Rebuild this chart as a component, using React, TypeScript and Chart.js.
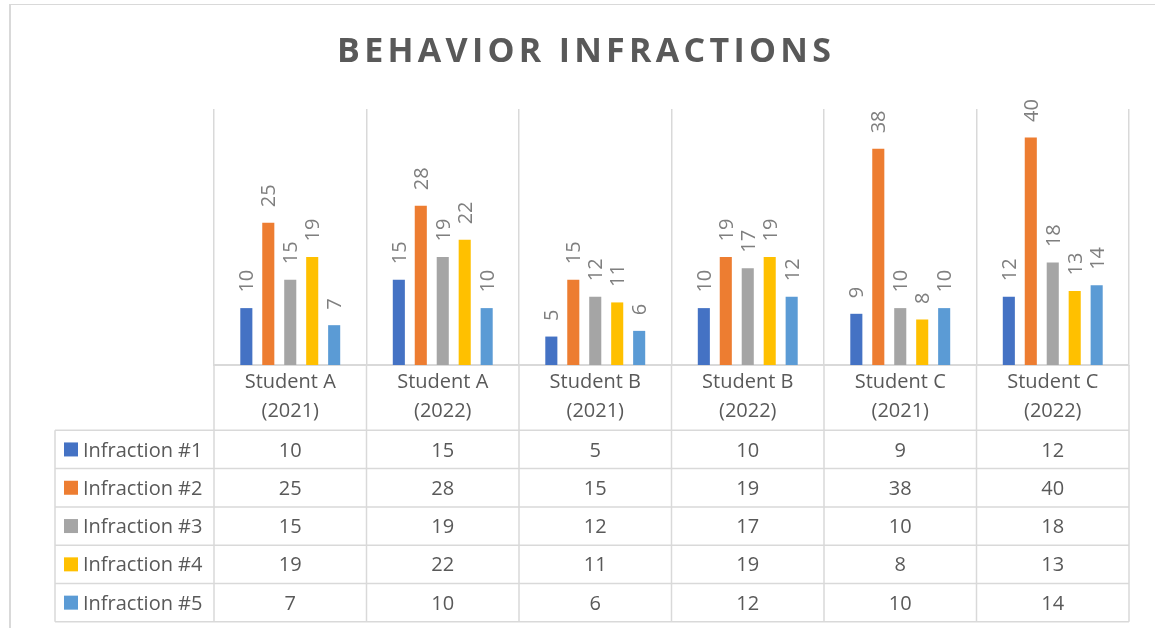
import React, { useEffect, useRef } from 'react';
import { Chart, registerables } from 'chart.js';

Chart.register(...registerables);

const titleText = 'BEHAVIOR INFRACTIONS';
const categories = [
  ['Student A', '(2021)'],
  ['Student A', '(2022)'],
  ['Student B', '(2021)'],
  ['Student B', '(2022)'],
  ['Student C', '(2021)'],
  ['Student C', '(2022)'],
];
const seriesNames = ['Infraction #1', 'Infraction #2', 'Infraction #3', 'Infraction #4', 'Infraction #5'];
const infraction1 = [10, 15, 5, 10, 9, 12];
const infraction2 = [25, 28, 15, 19, 38, 40];
const infraction3 = [15, 19, 12, 17, 10, 18];
const infraction4 = [19, 22, 11, 19, 8, 13];
const infraction5 = [7, 10, 6, 12, 10, 14];
const seriesValues = [infraction1, infraction2, infraction3, infraction4, infraction5];
const seriesColors = ['#4472C4', '#ED7D31', '#A5A5A5', '#FFC000', '#5B9BD5'];
const yMax = 45;

const W = 1155;
const H = 628;
const FONT = '"Open Sans", sans-serif';
const GRID = '#d9d9d9';
const TEXT = '#595959';
const LABEL = '#7f7f7f';

const excelPlugin = {
  id: 'excelDecor',
  beforeDraw(chart: any) {
    const ctx = chart.ctx as CanvasRenderingContext2D;
    ctx.save();
    ctx.fillStyle = '#ffffff';
    ctx.fillRect(0, 0, W, H);
    // outer frame (top and left edges visible)
    ctx.fillStyle = GRID;
    ctx.fillRect(9, 4, W - 9, 1);
    ctx.fillRect(9, 4, 2, H - 4);
    // title with letter spacing
    ctx.font = `bold 34px ${FONT}`;
    ctx.fillStyle = TEXT;
    ctx.textBaseline = 'alphabetic';
    ctx.textAlign = 'left';
    const chars = Array.from(titleText);
    const widths = chars.map((c) => ctx.measureText(c).width);
    const natural = widths.reduce((a, b) => a + b, 0);
    const targetW = 494;
    const ls = (targetW - natural) / (chars.length - 1);
    let x = 584 - targetW / 2;
    chars.forEach((c, i) => {
      ctx.fillText(c, x, 62);
      x += widths[i] + ls;
    });
    ctx.restore();
  },
  afterDatasetsDraw(chart: any) {
    const ctx = chart.ctx as CanvasRenderingContext2D;
    ctx.save();
    ctx.font = `20px ${FONT}`;
    ctx.fillStyle = LABEL;
    ctx.textAlign = 'left';
    ctx.textBaseline = 'alphabetic';
    chart.data.datasets.forEach((ds: any, di: number) => {
      const meta = chart.getDatasetMeta(di);
      meta.data.forEach((bar: any, i: number) => {
        const v = ds.data[i];
        ctx.save();
        ctx.translate(bar.x + 7, bar.y - 15.5);
        ctx.rotate(-Math.PI / 2);
        ctx.fillText(String(v), 0, 0);
        ctx.restore();
      });
    });
    ctx.restore();
  },
  afterDraw(chart: any) {
    const ctx = chart.ctx as CanvasRenderingContext2D;
    const xs = chart.scales.x;
    const area = chart.chartArea;
    const n = categories.length;
    const catW = (area.right - area.left) / n;
    const bounds: number[] = [];
    for (let i = 0; i < n; i++) bounds.push(xs.getPixelForValue(i) - catW / 2);
    bounds.push(xs.getPixelForValue(n - 1) + catW / 2);
    const tableTop = area.bottom + 65.3;
    const rowH = 38.3;
    const rows = seriesNames.length;
    const tableBottom = tableTop + rows * rowH;
    const tableLeft = 55;

    ctx.save();
    ctx.strokeStyle = GRID;
    ctx.lineWidth = 1.5;
    ctx.beginPath();
    bounds.forEach((bx) => {
      ctx.moveTo(bx, area.bottom);
      ctx.lineTo(bx, tableBottom);
    });
    ctx.moveTo(tableLeft, tableTop);
    ctx.lineTo(tableLeft, tableBottom);
    for (let r = 0; r <= rows; r++) {
      const y = tableTop + r * rowH;
      ctx.moveTo(tableLeft, y);
      ctx.lineTo(bounds[n], y);
    }
    ctx.stroke();

    ctx.font = `20px ${FONT}`;
    ctx.textBaseline = 'alphabetic';
    for (let r = 0; r < rows; r++) {
      const cy = tableTop + (r + 0.5) * rowH;
      const base = cy + 7.1;
      ctx.fillStyle = seriesColors[r];
      ctx.fillRect(64, cy - 7, 14, 14);
      ctx.fillStyle = TEXT;
      ctx.textAlign = 'left';
      ctx.fillText(seriesNames[r], 83, base);
      ctx.textAlign = 'center';
      seriesValues[r].forEach((v, i) => {
        ctx.fillText(String(v), xs.getPixelForValue(i), base);
      });
    }
    ctx.restore();
  },
};

export default function App() {
  const canvasRef = useRef<HTMLCanvasElement | null>(null);

  useEffect(() => {
    const canvas = canvasRef.current;
    if (!canvas) return;
    const chart = new Chart(canvas, {
      type: 'bar',
      data: {
        labels: categories,
        datasets: seriesNames.map((name, i) => ({
          label: name,
          data: seriesValues[i],
          backgroundColor: seriesColors[i],
          borderWidth: 0,
        })),
      },
      options: {
        responsive: false,
        animation: false,
        devicePixelRatio: 1,
        layout: { padding: { left: 214, right: 26, top: 109, bottom: 199 } },
        datasets: { bar: { categoryPercentage: 0.72, barPercentage: 0.55 } },
        plugins: {
          legend: { display: false },
          title: { display: false },
          tooltip: { enabled: false },
        },
        scales: {
          x: {
            grid: { offset: true, color: GRID, lineWidth: 1.5, drawTicks: false },
            border: { color: GRID, width: 2 },
            ticks: {
              color: TEXT,
              font: { family: FONT, size: 20, lineHeight: 1.45 },
              padding: 3,
              maxRotation: 0,
              autoSkip: false,
            },
          },
          y: { display: false, min: 0, max: yMax },
        },
      } as any,
      plugins: [excelPlugin],
    });
    return () => chart.destroy();
  }, []);

  return (
    <div style={{ position: 'absolute', left: 0, top: 0, width: W, height: H }}>
      <canvas ref={canvasRef} width={W} height={H} style={{ display: 'block' }} />
    </div>
  );
}
